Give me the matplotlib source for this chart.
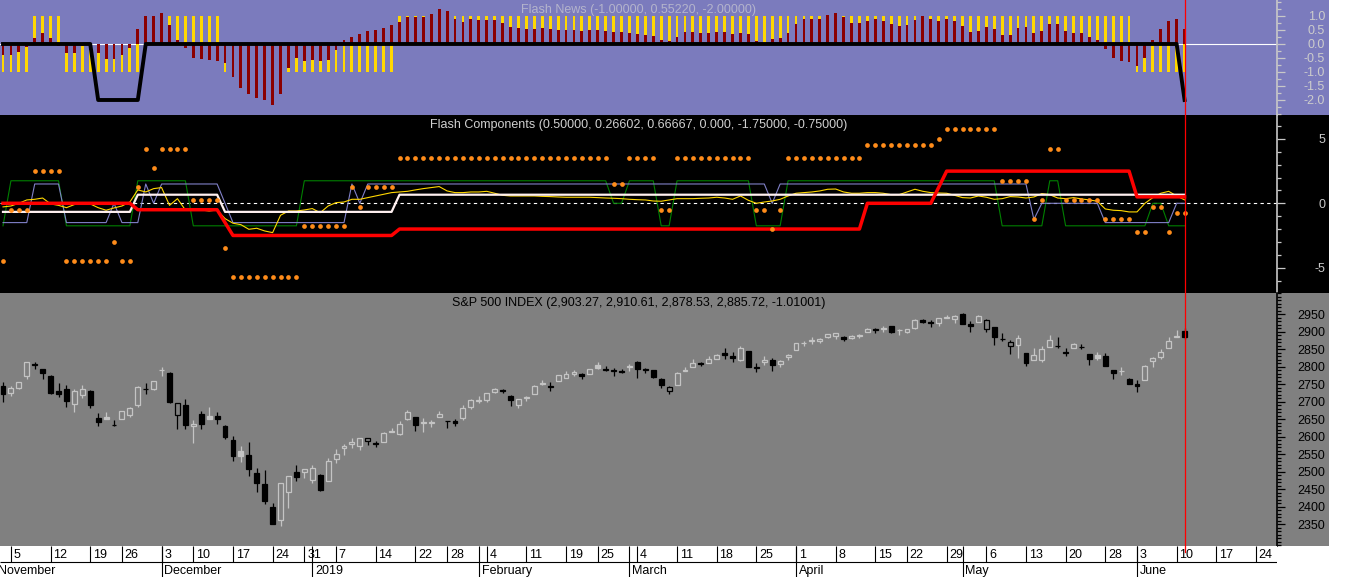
import numpy as np
import pandas as pd
import matplotlib
matplotlib.use("Agg")
import matplotlib.pyplot as plt
from matplotlib.patches import Rectangle
from matplotlib.ticker import FixedLocator, FormatStrFormatter

plt.rcParams['font.family'] = ['Liberation Sans', 'DejaVu Sans']

# ---- trading calendar ----
HOLIDAYS = ['2018-11-22', '2018-12-05', '2018-12-25', '2019-01-01',
            '2019-01-21', '2019-02-18', '2019-04-19', '2019-05-27']
CAL_START, CAL_END = '2018-11-01', '2019-06-28'
MONTH_LABELS = {11: 'November', 12: 'December', 1: '2019', 2: 'February',
                3: 'March', 4: 'April', 5: 'May', 6: 'June'}

# ---- S&P 500 daily bars, Nov 2 2018 .. Jun 11 2019 ----
spx_prev_close = 2740.37
spx_open = [
    2745.45, 2726.37, 2738.40, 2774.13, 2806.38, 2794.10, 2773.93, 2730.05, 2737.90, 2693.52, 2718.54,
    2730.74, 2654.60, 2657.74, 2633.36,
    2649.97, 2663.75, 2691.45, 2736.97, 2737.76,
    2790.50, 2782.43, 2663.51, 2691.26,
    2630.86, 2664.44, 2658.23, 2658.70, 2629.68,
    2590.75, 2559.90, 2547.05, 2496.77, 2465.38,
    2400.56, 2363.12, 2442.50, 2498.77, 2498.94,
    2476.96, 2491.92, 2474.33,
    2535.61, 2568.11, 2580.00, 2573.51, 2588.11,
    2580.31, 2585.10, 2614.75, 2609.28, 2651.27,
    2657.88, 2643.48, 2638.84, 2657.44,
    2644.97, 2644.89, 2653.62, 2685.49, 2702.32,
    2706.49, 2728.34, 2735.05, 2717.53, 2692.36,
    2712.40, 2722.61, 2750.30, 2743.50, 2760.24,
    2769.28, 2779.05, 2780.67, 2780.67,
    2804.35, 2792.36, 2787.50, 2788.11, 2798.22,
    2814.37, 2794.41, 2790.27, 2766.53, 2730.79,
    2747.61, 2787.34, 2799.78, 2810.38, 2810.79,
    2822.61, 2840.76, 2831.34, 2819.72, 2844.52,
    2796.01, 2812.66, 2819.72, 2809.40, 2828.27,
    2848.63, 2868.24, 2876.09, 2873.99, 2884.16,
    2888.46, 2886.58, 2881.37, 2891.92, 2900.86,
    2908.32, 2912.26, 2916.04, 2904.81,
    2898.78, 2909.99, 2934.00, 2928.99, 2925.81,
    2940.58, 2937.14, 2952.33, 2922.16, 2929.21,
    2908.89, 2913.03, 2879.61, 2859.84, 2863.10,
    2840.19, 2820.12, 2820.38, 2855.80, 2858.60,
    2841.94, 2854.02, 2856.06, 2836.70, 2832.41,
    2830.03, 2790.25, 2786.94, 2766.15,
    2751.53, 2762.64, 2818.09, 2828.51, 2852.87,
    2885.83, 2903.27]
spx_high = [
    2756.55, 2744.79, 2756.26, 2815.15, 2814.75, 2794.10, 2775.99, 2754.60, 2746.80, 2735.38, 2746.75,
    2733.16, 2669.44, 2670.73, 2647.55,
    2674.35, 2685.89, 2744.00, 2753.75, 2760.88,
    2800.18, 2785.93, 2696.15, 2708.54,
    2647.51, 2674.35, 2685.44, 2670.19, 2635.07,
    2601.13, 2573.99, 2585.29, 2509.63, 2504.41,
    2410.34, 2467.76, 2489.10, 2520.27, 2509.24,
    2519.49, 2493.14, 2538.07,
    2566.16, 2579.82, 2595.32, 2597.82, 2596.27,
    2589.32, 2613.08, 2625.76, 2645.06, 2675.47,
    2657.88, 2653.19, 2647.20, 2672.38,
    2644.97, 2650.93, 2690.44, 2708.95, 2716.66,
    2724.99, 2738.98, 2738.08, 2719.32, 2708.07,
    2718.05, 2748.19, 2761.85, 2757.90, 2775.66,
    2787.33, 2789.88, 2781.58, 2794.20,
    2813.49, 2803.12, 2795.76, 2793.73, 2808.02,
    2816.88, 2796.44, 2790.27, 2768.69, 2744.13,
    2784.00, 2798.32, 2821.24, 2815.00, 2830.73,
    2835.41, 2852.42, 2843.54, 2860.31, 2846.16,
    2809.79, 2829.87, 2825.56, 2819.71, 2836.03,
    2869.40, 2872.90, 2885.25, 2881.28, 2893.24,
    2895.95, 2886.88, 2889.71, 2893.42, 2910.54,
    2909.60, 2916.06, 2918.00, 2908.40,
    2909.51, 2936.31, 2936.83, 2933.10, 2939.88,
    2949.52, 2948.22, 2954.13, 2931.68, 2947.85,
    2937.32, 2913.03, 2897.96, 2875.97, 2891.31,
    2840.19, 2852.54, 2858.68, 2892.15, 2885.48,
    2853.86, 2868.88, 2865.47, 2836.70, 2841.36,
    2840.51, 2792.03, 2799.00, 2768.98,
    2763.07, 2804.49, 2827.28, 2852.10, 2884.97,
    2904.77, 2910.61]
spx_low = [
    2700.44, 2717.94, 2737.08, 2764.24, 2794.99, 2764.24, 2722.00, 2714.98, 2685.75, 2670.75, 2712.16,
    2681.09, 2631.52, 2649.82, 2631.09,
    2649.97, 2655.89, 2684.38, 2722.94, 2732.76,
    2773.38, 2697.18, 2621.53, 2623.14,
    2583.23, 2621.30, 2650.26, 2637.27, 2593.84,
    2530.54, 2528.71, 2488.96, 2441.18, 2408.55,
    2351.10, 2346.58, 2397.94, 2472.89, 2482.82,
    2467.47, 2443.96, 2474.33,
    2524.56, 2547.56, 2568.89, 2562.02, 2577.40,
    2570.41, 2585.10, 2612.68, 2606.36, 2647.58,
    2617.27, 2612.86, 2627.01, 2657.33,
    2624.06, 2631.05, 2648.34, 2678.65, 2696.88,
    2698.75, 2724.03, 2724.15, 2687.26, 2681.83,
    2703.79, 2722.61, 2748.63, 2731.23, 2760.24,
    2767.29, 2774.06, 2764.55, 2779.11,
    2794.99, 2789.47, 2775.13, 2782.51, 2787.38,
    2767.66, 2782.97, 2768.69, 2739.09, 2722.27,
    2747.61, 2786.73, 2799.78, 2803.46, 2810.79,
    2821.99, 2823.27, 2812.43, 2817.38, 2800.47,
    2785.02, 2803.99, 2787.72, 2798.77, 2819.23,
    2848.63, 2858.75, 2865.17, 2867.14, 2882.99,
    2880.78, 2873.33, 2879.13, 2881.99, 2898.37,
    2896.48, 2900.71, 2895.45, 2891.90,
    2896.35, 2908.53, 2926.05, 2912.84, 2917.56,
    2939.35, 2924.11, 2923.36, 2900.50, 2929.21,
    2898.21, 2862.60, 2873.28, 2836.40, 2825.39,
    2801.43, 2820.12, 2815.08, 2855.80, 2854.23,
    2831.29, 2854.02, 2851.11, 2805.49, 2820.19,
    2801.58, 2766.06, 2776.74, 2750.52,
    2728.81, 2762.64, 2800.92, 2822.45, 2852.87,
    2885.51, 2878.53]
spx_close = [
    2723.06, 2738.31, 2755.45, 2813.89, 2806.83, 2781.01, 2726.22, 2722.18, 2701.58, 2730.20, 2736.27,
    2690.73, 2641.89, 2649.93, 2632.56,
    2673.45, 2682.17, 2743.79, 2737.80, 2760.17,
    2790.37, 2700.06, 2695.95, 2633.08,
    2637.72, 2636.78, 2651.07, 2650.54, 2599.95,
    2545.94, 2546.16, 2506.96, 2467.42, 2416.62,
    2351.10, 2467.70, 2488.83, 2485.74, 2506.85,
    2510.03, 2447.89, 2531.94,
    2549.69, 2574.41, 2584.96, 2596.64, 2596.26,
    2582.61, 2610.30, 2616.10, 2635.96, 2670.71,
    2632.90, 2638.70, 2642.33, 2664.76,
    2643.85, 2640.00, 2681.05, 2704.10, 2706.53,
    2724.87, 2737.70, 2731.61, 2706.05, 2707.88,
    2709.80, 2744.73, 2753.03, 2745.73, 2775.60,
    2779.76, 2784.70, 2774.88, 2792.67,
    2796.11, 2793.90, 2792.38, 2784.49, 2803.69,
    2792.81, 2789.65, 2771.45, 2748.93, 2743.07,
    2783.30, 2791.52, 2810.92, 2808.48, 2822.48,
    2832.94, 2832.57, 2824.23, 2854.88, 2800.71,
    2798.36, 2818.46, 2805.37, 2815.44, 2834.40,
    2867.19, 2867.24, 2873.40, 2879.39, 2892.74,
    2895.77, 2878.20, 2888.21, 2888.32, 2907.41,
    2905.58, 2907.06, 2900.45, 2905.03,
    2907.97, 2933.68, 2927.25, 2926.17, 2939.88,
    2943.03, 2945.83, 2923.73, 2917.52, 2945.64,
    2932.47, 2884.05, 2879.42, 2870.72, 2881.40,
    2811.87, 2834.41, 2850.96, 2876.32, 2859.53,
    2840.23, 2864.36, 2856.27, 2822.24, 2826.06,
    2802.39, 2783.02, 2788.86, 2752.06,
    2744.45, 2803.27, 2826.15, 2843.49, 2873.34,
    2886.73, 2885.72]

# ---- Flash News (top panel) ----
news_signal = [
    -1, -1, -1, -1, 1, 1, 1, 1, -1, -1,
    -1, -1, -1, -1, -1, -1, -1, -1, 1, 1,
    1, 1, 1, 1, 1, 1, 1, 1, -1, -1,
    -1, -1, -1, -1, -1, -1, -1, -1, -1, -1,
    -1, -1, -1, -1, -1, -1, -1, -1, -1, -1,
    1, 1, 1, 1, 1, 1, 1, 1, 1, 1,
    1, 1, 1, 1, 1, 1, 1, 1, 1, 1,
    1, 1, 1, 1, 1, 1, 1, 1, 1, 1,
    1, 1, 1, 1, 1, 1, 1, 1, 1, 1,
    1, 1, 1, 1, 1, 1, 1, 1, 1, 1,
    1, 1, 1, 1, 1, 1, 1, 1, 1, 1,
    1, 1, 1, 1, 1, 1, 1, 1, 1, 1,
    1, 1, 1, 1, 1, 1, 1, 1, 1, 1,
    1, 1, 1, 1, 1, 1, 1, 1, 1, 1,
    1, 1, 1, -1, -1, -1, -1, -1, -1, -1]
news_value = [
    -0.40, -0.38, -0.27, -0.09, 0.22, 0.38, 0.22, -0.08, -0.31, -0.31,
    -0.07, -0.20, -0.32, -0.52, -0.53, -0.38, -0.13, 0.53, 0.99, 1.00,
    1.10, 0.69, 0.15, -0.15, -0.50, -0.53, -0.58, -0.59, -0.69, -1.19,
    -1.57, -1.78, -1.92, -1.99, -2.18, -1.78, -0.84, -0.49, -0.59, -0.57,
    -0.60, -0.57, -0.21, 0.15, 0.25, 0.37, 0.46, 0.51, 0.58, 0.68,
    0.80, 0.95, 0.97, 0.97, 1.08, 1.24, 1.19, 0.90, 0.78, 0.90,
    0.86, 0.86, 0.86, 0.74, 0.60, 0.57, 0.53, 0.53, 0.57, 0.53,
    0.51, 0.49, 0.50, 0.47, 0.50, 0.50, 0.47, 0.43, 0.43, 0.40,
    0.35, 0.33, 0.29, 0.14, 0.10, 0.24, 0.43, 0.43, 0.40, 0.40,
    0.43, 0.43, 0.35, 0.40, 0.35, 0.10, 0.00, 0.17, 0.21, 0.40,
    0.71, 0.88, 0.88, 0.88, 1.02, 1.10, 0.95, 0.76, 0.76, 0.81,
    0.88, 0.81, 0.71, 0.64, 0.67, 0.86, 0.99, 0.90, 0.83, 0.88,
    0.81, 0.64, 0.43, 0.47, 0.60, 0.53, 0.33, 0.33, 0.57, 0.60,
    0.40, 0.47, 0.71, 0.71, 0.47, 0.40, 0.40, 0.24, 0.14, -0.19,
    -0.50, -0.62, -0.65, -0.79, -0.50, 0.14, 0.53, 0.81, 0.88, 0.5522]
news_trigger = [
    0, 0, 0, 0, 0, 0, 0, 0, 0, 0,
    0, 0, -2, -2, -2, -2, -2, -2, 0, 0,
    0, 0, 0, 0, 0, 0, 0, 0, 0, 0,
    0, 0, 0, 0, 0, 0, 0, 0, 0, 0,
    0, 0, 0, 0, 0, 0, 0, 0, 0, 0,
    0, 0, 0, 0, 0, 0, 0, 0, 0, 0,
    0, 0, 0, 0, 0, 0, 0, 0, 0, 0,
    0, 0, 0, 0, 0, 0, 0, 0, 0, 0,
    0, 0, 0, 0, 0, 0, 0, 0, 0, 0,
    0, 0, 0, 0, 0, 0, 0, 0, 0, 0,
    0, 0, 0, 0, 0, 0, 0, 0, 0, 0,
    0, 0, 0, 0, 0, 0, 0, 0, 0, 0,
    0, 0, 0, 0, 0, 0, 0, 0, 0, 0,
    0, 0, 0, 0, 0, 0, 0, 0, 0, 0,
    0, 0, 0, 0, 0, 0, 0, 0, 0, -2]

# ---- Flash Components (middle panel) ----
comp_red = [
    0, 0, 0, 0, 0, 0, 0, 0, 0, 0,
    0, 0, 0, 0, 0, 0, 0, -0.5, -0.5, -0.5,
    -0.5, -0.5, -0.5, -0.5, -0.5, -0.5, -0.5, -0.5, -1.5, -2.5,
    -2.5, -2.5, -2.5, -2.5, -2.5, -2.5, -2.5, -2.5, -2.5, -2.5,
    -2.5, -2.5, -2.5, -2.5, -2.5, -2.5, -2.5, -2.5, -2.5, -2.5,
    -2, -2, -2, -2, -2, -2, -2, -2, -2, -2,
    -2, -2, -2, -2, -2, -2, -2, -2, -2, -2,
    -2, -2, -2, -2, -2, -2, -2, -2, -2, -2,
    -2, -2, -2, -2, -2, -2, -2, -2, -2, -2,
    -2, -2, -2, -2, -2, -2, -2, -2, -2, -2,
    -2, -2, -2, -2, -2, -2, -2, -2, -2, 0,
    0, 0, 0, 0, 0, 0, 0, 0, 1.25, 2.5,
    2.5, 2.5, 2.5, 2.5, 2.5, 2.5, 2.5, 2.5, 2.5, 2.5,
    2.5, 2.5, 2.5, 2.5, 2.5, 2.5, 2.5, 2.5, 2.5, 2.5,
    2.5, 2.5, 2.5, 0.5, 0.5, 0.5, 0.5, 0.5, 0.5, 0.5]
comp_white = [
    -0.66667, -0.66667, -0.66667, -0.66667, -0.66667, -0.66667, -0.66667, -0.66667, -0.66667, -0.66667,
    -0.66667, -0.66667, -0.66667, -0.66667, -0.66667, -0.66667, -0.66667, 0.66667, 0.66667, 0.66667,
    0.66667, 0.66667, 0.66667, 0.66667, 0.66667, 0.66667, 0.66667, 0.66667, -0.66667, -0.66667,
    -0.66667, -0.66667, -0.66667, -0.66667, -0.66667, -0.66667, -0.66667, -0.66667, -0.66667, -0.66667,
    -0.66667, -0.66667, -0.66667, -0.66667, -0.66667, -0.66667, -0.66667, -0.66667, -0.66667, -0.66667,
    0.66667, 0.66667, 0.66667, 0.66667, 0.66667, 0.66667, 0.66667, 0.66667, 0.66667, 0.66667,
    0.66667, 0.66667, 0.66667, 0.66667, 0.66667, 0.66667, 0.66667, 0.66667, 0.66667, 0.66667,
    0.66667, 0.66667, 0.66667, 0.66667, 0.66667, 0.66667, 0.66667, 0.66667, 0.66667, 0.66667,
    0.66667, 0.66667, 0.66667, 0.66667, 0.66667, 0.66667, 0.66667, 0.66667, 0.66667, 0.66667,
    0.66667, 0.66667, 0.66667, 0.66667, 0.66667, 0.66667, 0.66667, 0.66667, 0.66667, 0.66667,
    0.66667, 0.66667, 0.66667, 0.66667, 0.66667, 0.66667, 0.66667, 0.66667, 0.66667, 0.66667,
    0.66667, 0.66667, 0.66667, 0.66667, 0.66667, 0.66667, 0.66667, 0.66667, 0.66667, 0.66667,
    0.66667, 0.66667, 0.66667, 0.66667, 0.66667, 0.66667, 0.66667, 0.66667, 0.66667, 0.66667,
    0.66667, 0.66667, 0.66667, 0.66667, 0.66667, 0.66667, 0.66667, 0.66667, 0.66667, 0.66667,
    0.66667, 0.66667, 0.66667, 0.66667, 0.66667, 0.66667, 0.66667, 0.66667, 0.66667, 0.66667]
comp_yellow = [
    -0.28, -0.21, 0.00, 0.26, 0.31, 0.41, -0.05, -0.16, -0.34, -0.10,
    0.05, -0.05, -0.34, -0.54, -0.36, -0.21, 0.10, 1.04, 0.88, 1.14,
    1.22, -0.16, 0.36, -0.52, -0.47, -0.52, -0.60, -0.52, -1.19, -1.55,
    -1.66, -2.02, -1.94, -2.15, -2.28, -0.93, -0.60, -0.60, -0.52, -0.41,
    -0.73, -0.21, 0.05, 0.10, 0.31, 0.31, 0.44, 0.57, 0.70, 0.83,
    0.88, 0.93, 1.04, 1.14, 1.22, 1.30, 0.96, 0.83, 0.83, 0.88,
    0.88, 0.93, 0.78, 0.62, 0.57, 0.57, 0.57, 0.57, 0.54, 0.52,
    0.49, 0.47, 0.47, 0.47, 0.47, 0.44, 0.41, 0.39, 0.36, 0.31,
    0.28, 0.26, 0.18, 0.16, 0.26, 0.36, 0.36, 0.36, 0.39, 0.41,
    0.47, 0.41, 0.31, 0.57, 0.23, 0.00, 0.10, 0.18, 0.31, 0.57,
    0.78, 0.83, 0.88, 0.96, 1.09, 1.11, 0.88, 0.78, 0.78, 0.83,
    0.83, 0.78, 0.67, 0.67, 0.88, 1.09, 0.93, 0.83, 0.80, 0.78,
    0.62, 0.44, 0.41, 0.57, 0.47, 0.31, 0.36, 0.52, 0.49, 0.41,
    0.49, 0.75, 0.67, 0.41, 0.36, 0.44, 0.34, 0.26, 0.16, -0.44,
    -0.54, -0.57, -0.67, -0.67, 0.00, 0.44, 0.78, 0.93, 0.57, 0.26602]
comp_blue = [
    -1.5, -1.5, -1.5, -1.5, 1.5, 1.5, 1.5, 1.5, -1.5, -1.5,
    -1.5, -1.5, -1.5, -1.5, 0, -1.5, -1.5, -1.5, 1.5, 0,
    1.5, 1.5, 1.5, 1.5, 1.5, 1.5, 1.5, 1.5, 0, -1.5,
    -1.5, -1.5, -1.5, -1.5, -1.5, -1.5, -1.5, -1.5, -1.5, -1.5,
    -1.5, -1.5, -1.5, -1.5, 1.5, 0, 1.5, 1.5, 1.5, 1.5,
    1.5, 1.5, 1.5, 1.5, 1.5, 1.5, 1.5, 1.5, 1.5, 1.5,
    1.5, 1.5, 1.5, 1.5, 1.5, 1.5, 1.5, 1.5, 1.5, 1.5,
    1.5, 1.5, 1.5, 1.5, 1.5, 1.5, 1.5, 1.5, 1.5, 1.5,
    1.5, 1.5, 1.5, 1.5, 1.5, 1.5, 1.5, 1.5, 1.5, 1.5,
    1.5, 1.5, 1.5, 1.5, 1.5, 1.5, 1.5, 0, 1.5, 1.5,
    1.5, 1.5, 1.5, 1.5, 1.5, 1.5, 1.5, 1.5, 1.5, 1.5,
    1.5, 1.5, 1.5, 1.5, 1.5, 1.5, 1.5, 1.5, 1.5, 1.5,
    1.5, 1.5, 1.5, 1.5, 1.5, 1.5, 1.5, 1.5, 1.5, 1.5,
    -1.25, 0, 0, 0, 0, 0, 0, 0, 0, -1.5,
    -1.5, -1.5, -1.5, -1.5, -1.5, -1.5, -1.5, -1.5, 0, 0]
comp_green = [
    -1.75, 1.75, 1.75, 1.75, 1.75, 1.75, 1.75, 1.75, -1.75, -1.75,
    -1.75, -1.75, -1.75, -1.75, -1.75, -1.75, -1.75, 1.75, 1.75, 1.75,
    1.75, 1.75, 1.75, 1.75, -1.75, -1.75, -1.75, -1.75, -1.75, -1.75,
    -1.75, -1.75, -1.75, -1.75, -1.75, -1.75, -1.75, -1.75, 1.75, 1.75,
    1.75, 1.75, 1.75, 1.75, 1.75, 1.75, 1.75, 1.75, 1.75, 1.75,
    1.75, 1.75, 1.75, 1.75, 1.75, 1.75, 1.75, 1.75, 1.75, 1.75,
    1.75, 1.75, 1.75, 1.75, 1.75, 1.75, 1.75, 1.75, 1.75, 1.75,
    1.75, 1.75, 1.75, 1.75, 1.75, 1.75, 1.75, 0, 0, 1.75,
    1.75, 1.75, 1.75, -1.75, -1.75, 1.75, 1.75, 1.75, 1.75, 1.75,
    1.75, 1.75, 1.75, 1.75, 1.75, -1.75, -1.75, -1.75, -1.75, 1.75,
    1.75, 1.75, 1.75, 1.75, 1.75, 1.75, 1.75, 1.75, 1.75, 1.75,
    1.75, 1.75, 1.75, 1.75, 1.75, 1.75, 1.75, 1.75, 1.75, 1.75,
    1.75, 1.75, 1.75, 1.75, 1.75, 1.75, -1.75, -1.75, -1.75, -1.75,
    -1.75, -1.75, 1.75, 1.75, -1.75, -1.75, -1.75, -1.75, -1.75, -1.75,
    -1.75, -1.75, -1.75, -1.75, -1.75, 0, 0, -1.75, -1.75, -1.75]
comp_dots = [
    -4.5, -0.5, -0.5, -0.5, 2.5, 2.5, 2.5, 2.5, -4.5, -4.5,
    -4.5, -4.5, -4.5, -4.5, -3.0, -4.5, -4.5, 1.25, 4.25, 2.75,
    4.25, 4.25, 4.25, 4.25, 0.25, 0.25, 0.25, 0.25, -3.5, -5.75,
    -5.75, -5.75, -5.75, -5.75, -5.75, -5.75, -5.75, -5.75, -1.75, -1.75,
    -1.75, -1.75, -1.75, -1.75, 1.25, -0.25, 1.25, 1.25, 1.25, 1.25,
    3.5, 3.5, 3.5, 3.5, 3.5, 3.5, 3.5, 3.5, 3.5, 3.5,
    3.5, 3.5, 3.5, 3.5, 3.5, 3.5, 3.5, 3.5, 3.5, 3.5,
    3.5, 3.5, 3.5, 3.5, 3.5, 3.5, 3.5, 1.5, 1.5, 3.5,
    3.5, 3.5, 3.5, -0.5, -0.5, 3.5, 3.5, 3.5, 3.5, 3.5,
    3.5, 3.5, 3.5, 3.5, 3.5, -0.5, -0.5, -2.0, -0.5, 3.5,
    3.5, 3.5, 3.5, 3.5, 3.5, 3.5, 3.5, 3.5, 3.5, 4.5,
    4.5, 4.5, 4.5, 4.5, 4.5, 4.5, 4.5, 4.5, 5.0, 5.75,
    5.75, 5.75, 5.75, 5.75, 5.75, 5.75, 1.75, 1.75, 1.75, 1.75,
    -1.25, 0.25, 4.25, 4.25, 0.25, 0.25, 0.25, 0.25, 0.25, -1.25,
    -1.25, -1.25, -1.25, -2.25, -2.25, -0.25, -0.25, -2.25, -0.75, -0.75]

# ---- layout (pixels) ----
W, H = 1352, 577
AX_R, STRIP_R = 1277, 1329
PX0, STEP = 3, 7.93          # pixel of first bar, pixels per bar
XLIM = ((0 - PX0) / STEP, (AX_R - PX0) / STEP)

PURPLE = '#7b7bbd'
GRAY = '#808080'
LIGHT = '#c4c4c4'
GOLD = '#ffd700'
DARKRED = '#8b0000'
CURSOR_RED = '#ff0000'

fig = plt.figure(figsize=(W / 100, H / 100), dpi=100)
fig.patch.set_facecolor('white')


def px_axes(x0, y0, x1, y1):
    return fig.add_axes([x0 / W, 1 - y1 / H, (x1 - x0) / W, (y1 - y0) / H])


def right_strip(y0, y1, color):
    fig.add_artist(Rectangle((AX_R / W, 1 - y1 / H), (STRIP_R - AX_R) / W,
                             (y1 - y0) / H, transform=fig.transFigure,
                             facecolor=color, edgecolor='none', zorder=-5))


def style_panel(ax, bg, fg, lab, majors, minors, fmt):
    ax.set_facecolor(bg)
    ax.set_xlim(XLIM)
    for s in ('left', 'top', 'bottom'):
        ax.spines[s].set_visible(False)
    ax.spines['right'].set_color(fg)
    ax.spines['right'].set_linewidth(1.2)
    ax.set_xticks([])
    ax.yaxis.tick_right()
    ax.yaxis.set_major_locator(FixedLocator(majors))
    ax.yaxis.set_minor_locator(FixedLocator(minors))
    ax.yaxis.set_major_formatter(FormatStrFormatter(fmt))
    ax.tick_params(axis='y', which='major', length=5.8, width=0.9, color=fg,
                   labelcolor=lab, labelsize=9, pad=28.8)
    ax.tick_params(axis='y', which='minor', length=2.9, width=0.9, color=fg)
    for t in ax.get_yticklabels():
        t.set_horizontalalignment('right')


ax_news = px_axes(0, 0, AX_R, 115)
ax_comp = px_axes(0, 115, AX_R, 293)
ax_px = px_axes(0, 293, AX_R, 546)
ax_date = px_axes(0, 546, AX_R, 577)

right_strip(0, 115, PURPLE)
right_strip(115, 293, 'black')
right_strip(293, 546, GRAY)

x = np.arange(len(spx_close))
cursor = x[-1]

# ---- top: Flash News ----
ax_news.set_ylim(-2.536, 1.571)
style_panel(ax_news, PURPLE, '#c8c8c8', '#cccccc',
            [-2.0, -1.5, -1.0, -0.5, 0.0, 0.5, 1.0],
            np.arange(-2.5, 1.6, 0.25), '%.1f')
ax_news.axhline(0, color='white', lw=0.8, zorder=1)
ax_news.bar(x, news_signal, width=0.36, color=GOLD, linewidth=0, zorder=2)
ax_news.bar(x, news_value, width=0.36, color=DARKRED, linewidth=0, zorder=3)
ax_news.plot(x, news_trigger, color='black', lw=2.8, zorder=4)
ax_news.text(0.5, 1 - 10 / 115,
             f'Flash News ({news_signal[-1]:.5f}, {news_value[-1]:.5f}, {news_trigger[-1]:.5f})',
             transform=ax_news.transAxes, ha='center', va='center',
             color='#b4b4cc', fontsize=9)

# ---- middle: Flash Components ----
ax_comp.set_ylim(-6.97, 6.86)
style_panel(ax_comp, 'black', '#c8c8c8', '#c8c8c8', [-5, 0, 5],
            np.arange(-6, 7, 1), '%d')
ax_comp.axhline(0, color='white', lw=0.8, ls=(0, (3, 3)), zorder=1)
ax_comp.plot(x, comp_green, color='#008000', lw=0.8, zorder=2)
ax_comp.plot(x, comp_blue, color='#8080c8', lw=0.8, zorder=2)
ax_comp.plot(x, comp_yellow, color='#ffd700', lw=0.8, zorder=3)
ax_comp.plot(x, comp_white, color='#fff0f0', lw=1.6, zorder=4)
ax_comp.plot(x, comp_red, color='#ff0000', lw=2.5, zorder=5)
ax_comp.plot(x, comp_dots, 'o', color='#ff8c1a', ms=3.4, mew=0, zorder=6)
ax_comp.text(0.5, 1 - 10 / 178,
             'Flash Components (0.50000, 0.26602, 0.66667, 0.000, -1.75000, -0.75000)',
             transform=ax_comp.transAxes, ha='center', va='center',
             color='#d0d0d0', fontsize=9)

# ---- bottom: S&P 500 candles ----
ax_px.set_ylim(2288, 3011)
style_panel(ax_px, GRAY, 'black', 'black', np.arange(2350, 2951, 50),
            np.arange(2290, 3011, 10), '%d')
o = np.array(spx_open)
h = np.array(spx_high)
lo = np.array(spx_low)
c = np.array(spx_close)
prev = np.r_[spx_prev_close, c[:-1]]
cols = np.where(c < prev, 'black', LIGHT)
faces = np.where(c < o, cols, GRAY)
bot = np.minimum(o, c)
top = np.maximum(o, c)
ax_px.vlines(x, lo, bot, colors=cols, lw=0.9, zorder=2)
ax_px.vlines(x, top, h, colors=cols, lw=0.9, zorder=2)
ax_px.bar(x, top - bot, bottom=bot, width=0.62, color=faces,
          edgecolor=cols, linewidth=0.9, zorder=3)
ax_px.text(0.5, 1 - 10 / 253,
           'S&P 500 INDEX (2,903.27, 2,910.61, 2,878.53, 2,885.72, -1.01001)',
           transform=ax_px.transAxes, ha='center', va='center',
           color='black', fontsize=9)

for ax in (ax_news, ax_comp, ax_px):
    ax.axvline(cursor, color=CURSOR_RED, lw=0.9, zorder=10)

# ---- date axis ----
cal = pd.bdate_range(CAL_START, CAL_END, freq='C', holidays=HOLIDAYS)
cal_x = np.arange(len(cal)) - 1   # Nov 1 sits one bar left of the first candle
ax_date.set_xlim(XLIM)
ax_date.set_ylim(0, 1)
ax_date.axis('off')
ax_date.add_patch(Rectangle((0, 0), 1, 1, transform=ax_date.transAxes,
                            facecolor='white', edgecolor='none', zorder=0))
ROW = (577 - 562) / 31
ax_date.hlines(ROW, XLIM[0], XLIM[1], color='black', lw=0.8)

prev_week, prev_month = None, None
for xi, d in zip(cal_x, cal):
    wk = d.isocalendar()[:2]
    if d.month != prev_month:
        ax_date.vlines(xi, 0, 1, color='black', lw=0.8)
        ax_date.text(xi + 0.35, 0.2, MONTH_LABELS[d.month], fontsize=9,
                     ha='left', va='center', clip_on=True)
    if wk != prev_week and prev_week is not None:
        ax_date.vlines(xi, ROW, 1, color='black', lw=0.8)
        ax_date.text(xi + 0.35, 0.72, str(d.day), fontsize=9,
                     ha='left', va='center', clip_on=True)
    prev_week, prev_month = wk, d.month

ax_date.axvline(cursor, ymin=0.8, ymax=1, color=CURSOR_RED, lw=0.9)

fig.savefig('out.png', dpi=100, facecolor='white')
